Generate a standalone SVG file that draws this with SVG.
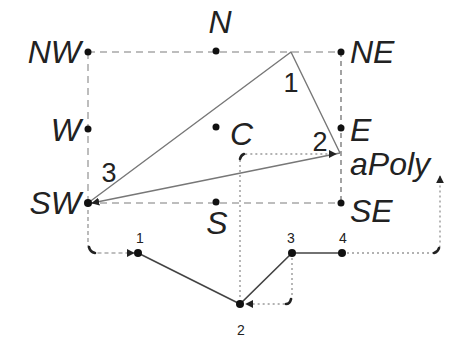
<svg xmlns="http://www.w3.org/2000/svg" width="455" height="338" viewBox="0 0 455 338">
<defs>
<style>
.lbl{font-family:"Liberation Sans",Arial,sans-serif;font-style:italic;font-size:32px;fill:#222}
.num{font-family:"Liberation Sans",Arial,sans-serif;font-size:27px;fill:#222}
.sm{font-family:"Liberation Sans",Arial,sans-serif;font-size:14px;fill:#222;text-anchor:middle}
.grid{fill:none;stroke:#bdbdbd;stroke-width:2;stroke-dasharray:7,5}
.grid2{fill:none;stroke:#666;stroke-width:1.2;stroke-dasharray:5,4}
.dot{fill:#111}
.tri{fill:none;stroke:#777;stroke-width:1.4}
.poly{fill:none;stroke:#444;stroke-width:1.6}
.conn{fill:none;stroke:#999;stroke-width:1.4;stroke-dasharray:2,3}
.connd{fill:none;stroke:#aaa;stroke-width:1.6;stroke-dasharray:4,3}
.curl{fill:none;stroke:#222;stroke-width:2.6;stroke-linecap:round}
</style>
<marker id="ah" viewBox="0 0 10 10" refX="9" refY="5" markerWidth="8" markerHeight="8" markerUnits="userSpaceOnUse" orient="auto">
<path d="M0,0 L10,5 L0,10 z" fill="#222"/>
</marker>
</defs>
<g id="connectors">
<path class="grid" d="M88,52 H341"/>
<path class="grid" d="M88,203 H341"/>
<path class="grid" d="M88,52 V203"/>
<path class="grid2" d="M341,52 V203"/>
<path class="tri" d="M88,203 L291,52 L340,153"/>
<path class="tri" d="M340,153 L92,203" marker-end="url(#ah)"/>
<path class="poly" d="M138,253 L240,304 L292,253 L342,253"/>
<path class="connd" d="M88,203 V244 Q88,253 97,253 H134" marker-end="url(#ah)"/>
<path class="conn" d="M240,302 V162 Q240,154 248,154 H336" marker-end="url(#ah)"/>
<path class="conn" d="M292,253 V296 Q292,304 284,304 H246" marker-end="url(#ah)"/>
<path class="conn" d="M342,253 H431 Q440,253 440,244 V176" marker-end="url(#ah)"/>
<path class="curl" d="M89,247 Q90,252 95,253"/>
<path class="curl" d="M240,159 Q241,155 244,154"/>
<path class="curl" d="M291,299 Q290,304 286,304"/>
<path class="curl" d="M434,253 Q438,252 439,248"/>
</g>
<g id="NW"><circle class="dot" cx="88" cy="52" r="3.5"/><text class="lbl" x="81" y="63" text-anchor="end">NW</text></g>
<g id="N"><circle class="dot" cx="216" cy="51" r="3.5"/><text class="lbl" x="220" y="33" text-anchor="middle">N</text></g>
<g id="NE"><circle class="dot" cx="341" cy="52" r="3.5"/><text class="lbl" x="350" y="63">NE</text></g>
<g id="W"><circle class="dot" cx="88" cy="129" r="3.5"/><text class="lbl" x="81" y="141" text-anchor="end">W</text></g>
<g id="C"><circle class="dot" cx="216" cy="127" r="3.5"/><text class="lbl" x="230" y="145">C</text></g>
<g id="E"><circle class="dot" cx="341" cy="128" r="3.5"/><text class="lbl" x="350" y="141">E</text></g>
<g id="SW"><circle class="dot" cx="88" cy="203" r="4"/><text class="lbl" x="81" y="214" text-anchor="end">SW</text></g>
<g id="S"><circle class="dot" cx="216" cy="202" r="3.5"/><text class="lbl" x="217" y="234" text-anchor="middle">S</text></g>
<g id="SE"><circle class="dot" cx="341" cy="203" r="3.5"/><text class="lbl" x="350" y="222">SE</text></g>
<g id="aPoly"><text class="lbl" x="350" y="175">aPoly</text>
<text class="num" x="291" y="92" text-anchor="middle">1</text>
<text class="num" x="320" y="151" text-anchor="middle">2</text>
<text class="num" x="109" y="182" text-anchor="middle">3</text></g>
<g id="p1"><circle class="dot" cx="138" cy="253" r="4"/><text class="sm" x="140" y="243">1</text></g>
<g id="p2"><circle class="dot" cx="240" cy="304" r="4"/><text class="sm" x="241" y="335">2</text></g>
<g id="p3"><circle class="dot" cx="292" cy="253" r="4"/><text class="sm" x="291" y="243">3</text></g>
<g id="p4"><circle class="dot" cx="342" cy="253" r="4"/><text class="sm" x="343" y="243">4</text></g>
</svg>
